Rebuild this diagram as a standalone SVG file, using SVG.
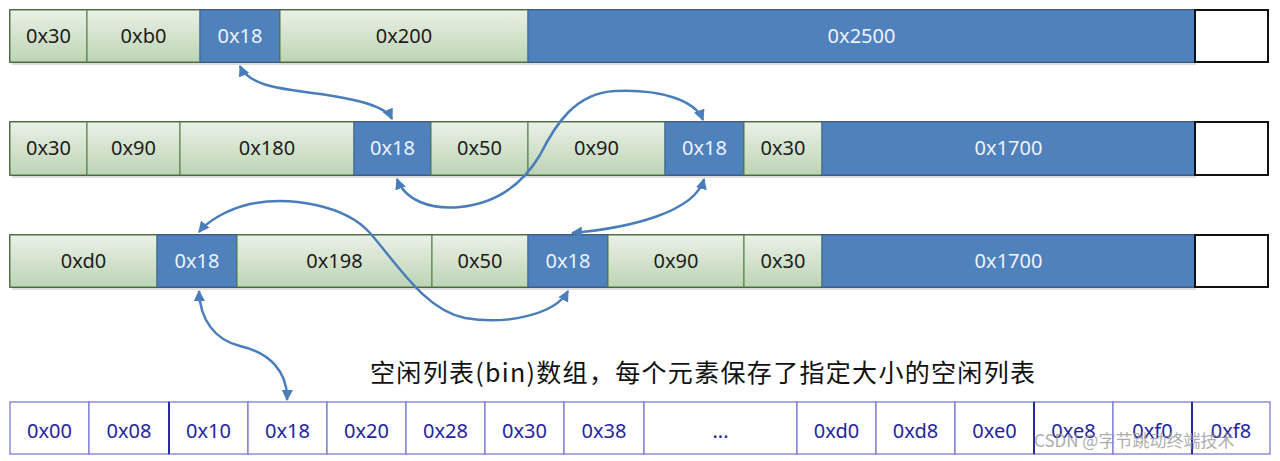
<svg xmlns="http://www.w3.org/2000/svg" width="1280" height="461" viewBox="0 0 1280 461">
<defs>
<linearGradient id="g" x1="0" y1="0" x2="0" y2="1">
<stop offset="0" stop-color="#eaf1e6"/>
<stop offset="1" stop-color="#bdd4b5"/>
</linearGradient>
<marker id="ah" viewBox="0 0 10 10" refX="9" refY="5" markerWidth="4.5" markerHeight="4.5" orient="auto-start-reverse" markerUnits="strokeWidth">
<path d="M0,0 L10,5 L0,10 z" fill="#4a7ebb"/>
</marker>
</defs>
<style>
.gr{fill:url(#g);stroke:#4f7a3e;stroke-width:1}
.bl{fill:#4f81bd;stroke:#3a6497;stroke-width:1}
.wh{fill:#ffffff;stroke:#111;stroke-width:2}
.sh{fill:#c8c8c8;opacity:0.6}
.t{font-family:"Noto Sans","Liberation Sans",sans-serif;font-size:20px;text-anchor:middle;fill:#1c1c1c}
.tw{font-family:"Noto Sans","Liberation Sans",sans-serif;font-size:20px;text-anchor:middle;fill:#eef3fa}
.bc{fill:#ffffff;stroke:#7373d0;stroke-width:1.2}
.bt{font-family:"Noto Sans","Liberation Sans",sans-serif;font-size:20px;text-anchor:middle;fill:#2424a0}
.arr{fill:none;stroke:#4a7ebb;stroke-width:2.5;marker-start:url(#ah);marker-end:url(#ah)}
.cap{font-family:"Noto Sans CJK SC","Noto Sans",sans-serif;font-size:25px;fill:#111}
.wm{font-family:"Noto Sans CJK SC","Noto Sans",sans-serif;font-size:17px;fill:#9a9a9a;opacity:0.8}
</style>
<rect width="1280" height="461" fill="#ffffff"/>

<g id="row1">
<rect class="sh" x="12" y="62" width="1184" height="3"/>
<rect x="10" y="10" width="1258" height="52" fill="#fff" stroke="#222" stroke-width="1.5"/>
<g id="r1c1"><rect class="gr" x="10" y="10" width="77" height="52"/><text class="t" x="48.5" y="43">0x30</text></g>
<g id="r1c2"><rect class="gr" x="87" y="10" width="113" height="52"/><text class="t" x="143.5" y="43">0xb0</text></g>
<g id="r1c3"><rect class="bl" x="200" y="10" width="80" height="52"/><text class="tw" x="240" y="43">0x18</text></g>
<g id="r1c4"><rect class="gr" x="280" y="10" width="248" height="52"/><text class="t" x="404" y="43">0x200</text></g>
<g id="r1c5"><rect class="bl" x="528" y="10" width="667" height="52"/><text class="tw" x="861.5" y="43">0x2500</text></g>
<g id="r1c6"><rect class="wh" x="1195" y="10" width="73" height="52"/></g>
</g>

<g id="row2">
<rect class="sh" x="12" y="175" width="1184" height="3"/>
<rect x="10" y="122" width="1258" height="53" fill="#fff" stroke="#222" stroke-width="1.5"/>
<g id="r2c1"><rect class="gr" x="10" y="122" width="77" height="53"/><text class="t" x="48.5" y="155">0x30</text></g>
<g id="r2c2"><rect class="gr" x="87" y="122" width="93" height="53"/><text class="t" x="133.5" y="155">0x90</text></g>
<g id="r2c3"><rect class="gr" x="180" y="122" width="174" height="53"/><text class="t" x="267" y="155">0x180</text></g>
<g id="r2c4"><rect class="bl" x="354" y="122" width="77" height="53"/><text class="tw" x="392.5" y="155">0x18</text></g>
<g id="r2c5"><rect class="gr" x="431" y="122" width="97" height="53"/><text class="t" x="479.5" y="155">0x50</text></g>
<g id="r2c6"><rect class="gr" x="528" y="122" width="137" height="53"/><text class="t" x="596.5" y="155">0x90</text></g>
<g id="r2c7"><rect class="bl" x="665" y="122" width="79" height="53"/><text class="tw" x="704.5" y="155">0x18</text></g>
<g id="r2c8"><rect class="gr" x="744" y="122" width="78" height="53"/><text class="t" x="783" y="155">0x30</text></g>
<g id="r2c9"><rect class="bl" x="822" y="122" width="373" height="53"/><text class="tw" x="1008.5" y="155">0x1700</text></g>
<g id="r2c10"><rect class="wh" x="1195" y="122" width="73" height="53"/></g>
</g>

<g id="row3">
<rect class="sh" x="12" y="287" width="1184" height="3"/>
<rect x="10" y="235" width="1258" height="52" fill="#fff" stroke="#222" stroke-width="1.5"/>
<g id="r3c1"><rect class="gr" x="10" y="235" width="147" height="52"/><text class="t" x="83.5" y="268">0xd0</text></g>
<g id="r3c2"><rect class="bl" x="157" y="235" width="80" height="52"/><text class="tw" x="197" y="268">0x18</text></g>
<g id="r3c3"><rect class="gr" x="237" y="235" width="195" height="52"/><text class="t" x="334.5" y="268">0x198</text></g>
<g id="r3c4"><rect class="gr" x="432" y="235" width="96" height="52"/><text class="t" x="480" y="268">0x50</text></g>
<g id="r3c5"><rect class="bl" x="528" y="235" width="80" height="52"/><text class="tw" x="568" y="268">0x18</text></g>
<g id="r3c6"><rect class="gr" x="608" y="235" width="136" height="52"/><text class="t" x="676" y="268">0x90</text></g>
<g id="r3c7"><rect class="gr" x="744" y="235" width="78" height="52"/><text class="t" x="783" y="268">0x30</text></g>
<g id="r3c8"><rect class="bl" x="822" y="235" width="373" height="52"/><text class="tw" x="1008.5" y="268">0x1700</text></g>
<g id="r3c9"><rect class="wh" x="1195" y="235" width="73" height="52"/></g>
</g>

<g id="bins">
<g id="b00"><rect class="bc" x="10" y="402" width="79" height="52"/><text class="bt" x="49.5" y="438">0x00</text></g>
<g id="b08"><rect class="bc" x="89" y="402" width="80" height="52"/><text class="bt" x="129" y="438">0x08</text></g>
<g id="b10"><rect class="bc" x="169" y="402" width="79" height="52"/><text class="bt" x="208.5" y="438">0x10</text></g>
<g id="b18"><rect class="bc" x="248" y="402" width="79" height="52"/><text class="bt" x="287.5" y="438">0x18</text></g>
<g id="b20"><rect class="bc" x="327" y="402" width="79" height="52"/><text class="bt" x="366.5" y="438">0x20</text></g>
<g id="b28"><rect class="bc" x="406" y="402" width="79" height="52"/><text class="bt" x="445.5" y="438">0x28</text></g>
<g id="b30"><rect class="bc" x="485" y="402" width="79" height="52"/><text class="bt" x="524.5" y="438">0x30</text></g>
<g id="b38"><rect class="bc" x="564" y="402" width="80" height="52"/><text class="bt" x="604" y="438">0x38</text></g>
<g id="bdots"><rect class="bc" x="644" y="402" width="153" height="52"/><text class="bt" x="720.5" y="438">...</text></g>
<g id="bd0"><rect class="bc" x="797" y="402" width="79" height="52"/><text class="bt" x="836.5" y="438">0xd0</text></g>
<g id="bd8"><rect class="bc" x="876" y="402" width="79" height="52"/><text class="bt" x="915.5" y="438">0xd8</text></g>
<g id="be0"><rect class="bc" x="955" y="402" width="79" height="52"/><text class="bt" x="994.5" y="438">0xe0</text></g>
<g id="be8"><rect class="bc" x="1034" y="402" width="79" height="52"/><text class="bt" x="1073.5" y="438">0xe8</text></g>
<g id="bf0"><rect class="bc" x="1113" y="402" width="79" height="52"/><text class="bt" x="1152.5" y="438">0xf0</text></g>
<g id="bf8"><rect class="bc" x="1192" y="402" width="78" height="52"/><text class="bt" x="1231" y="438">0xf8</text></g>
<path d="M169,402 V454 M1034,402 V454 M1192,402 V454" stroke="#2a2aa8" stroke-width="2"/>
</g>

<g id="caption">
<text class="cap" x="370" y="382" textLength="665" lengthAdjust="spacing">空闲列表(bin)数组，每个元素保存了指定大小的空闲列表</text>
</g>

<g id="connectors">
<path class="arr" d="M240,66 C248,84 275,88 305,92 C345,97 385,104 392,119"/>
<path class="arr" d="M397,179 C405,200 430,210 460,207 C500,203 525,180 540,155 C555,125 575,93 615,91 C660,89 695,100 703,120"/>
<path class="arr" d="M704,179 C695,212 630,228 572,233"/>
<path class="arr" d="M568,291 C555,315 505,325 465,318 C425,310 398,265 370,233 C345,205 290,196 250,204 C225,210 207,222 199,232"/>
<path class="arr" d="M199,291 C200,320 215,340 240,346 C270,353 288,372 287,400"/>
</g>

<text class="wm" x="1034" y="447">CSDN @字节跳动终端技术</text>
</svg>
